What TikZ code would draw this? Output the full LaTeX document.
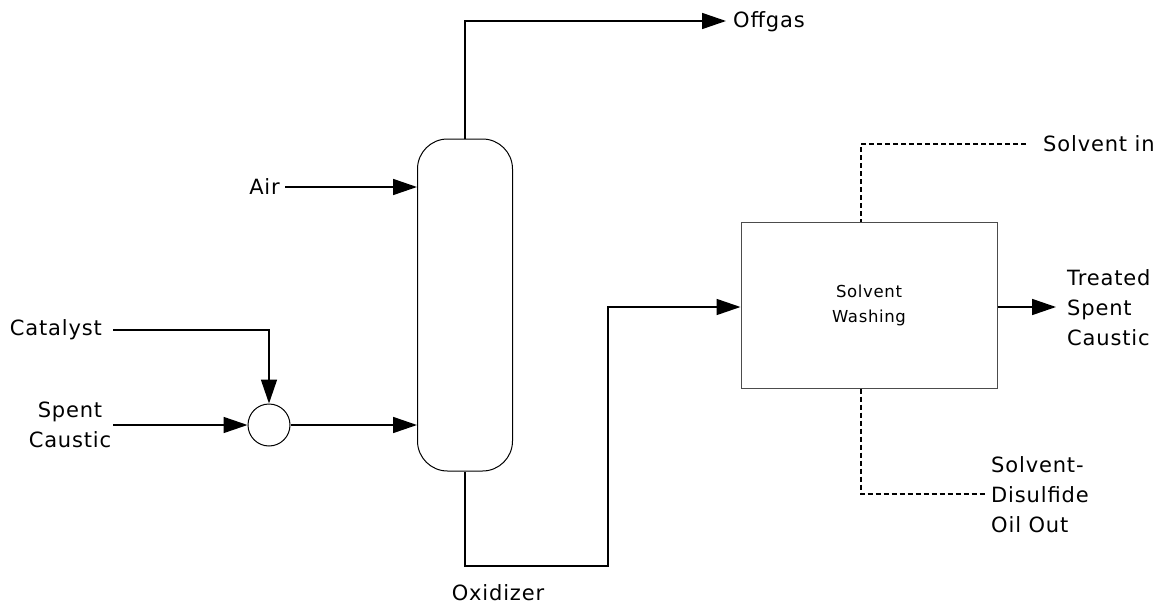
\documentclass[tikz,border=0pt]{standalone}
\usepackage{fontspec}
\setmainfont{DejaVu Sans}[LetterSpace=4]
\usetikzlibrary{arrows.meta}
\begin{document}
\begin{tikzpicture}[x=1pt,y=-1pt,
  flow/.style={line width=1.6pt},
  arr/.style={flow,-{Triangle[length=24pt,width=16pt]}},
  dflow/.style={line width=1.4pt,dash pattern=on 5pt off 3pt},
  lbl/.style={font=\fontsize{21}{30}\selectfont,inner sep=0pt},
  unit/.style={draw=black!70,line width=1pt}]
\useasboundingbox (0,0) rectangle (1171,605);
% oxidizer column
\node[draw,line width=1pt,rounded corners=30pt,minimum width=95pt,minimum height=332pt,inner sep=0pt] (col) at (465,305) {};
% mixing point
\node[draw,circle,line width=1pt,minimum size=42pt,inner sep=0pt] (mix) at (269,425) {};
% solvent washing unit
\node[unit,minimum width=256pt,minimum height=166pt,inner sep=0pt,align=center,font=\fontsize{16.5}{25}\selectfont] (wash) at (869,305) {Solvent\\Washing};
% labels
\node[lbl,anchor=west] (offgas) at (733,22) {Offgas};
\node[lbl,anchor=east] (air) at (280,187) {Air};
\node[lbl,anchor=east] (cat) at (102,330) {Catalyst};
\node[lbl,align=center] (spent) at (70,425) {Spent\\Caustic};
\node[lbl] (oxid) at (498,593) {Oxidizer};
\node[lbl,anchor=west] (solin) at (1043,144) {Solvent in};
\node[lbl,anchor=west,align=left] (treat) at (1067,308) {Treated\\Spent\\Caustic};
\node[lbl,anchor=west,align=left] (sdo) at (991,495) {Solvent-\\Disulfide\\Oil Out};
% junction points
\coordinate (airS) at (285,187);
\coordinate (catS) at (113,330);
\coordinate (spS) at (113,425);
\coordinate (offT) at (726,21);
\coordinate (inA) at (608,307);
\coordinate (solS) at (1026,144);
\coordinate (solA) at (861,144);
\coordinate (treatT) at (1056,307);
\coordinate (sdoT) at (985,494);
\coordinate (sdoA) at (861,494);
% streams
\draw[arr] (col.north) -- (465,21) -- (offT);
\draw[arr] (airS) -- (airS -| col.west);
\draw[arr] (catS) -- (269,330) -- (mix.north);
\draw[arr] (spS) -- (mix.west);
\draw[arr] (mix.east) -- (mix.east -| col.west);
\draw[arr] (col.south) -- (465,566) -- (608,566) -- (inA) -- (inA -| wash.west);
\draw[arr] (treatT -| wash.east) -- (treatT);
\draw[dflow] (solS) -- (solA) -- (solA |- wash.north);
\draw[dflow] (sdoA |- wash.south) -- (sdoA) -- (sdoT);
\end{tikzpicture}
\end{document}
